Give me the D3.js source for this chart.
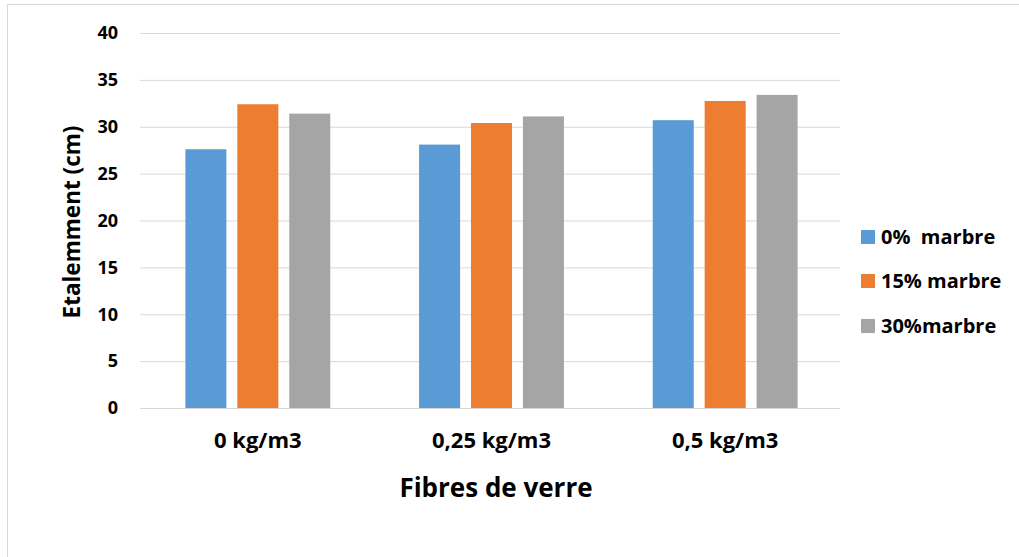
<!DOCTYPE html>
<html>
<head>
<meta charset="utf-8">
<script src="https://cdn.jsdelivr.net/npm/d3@7"></script>
<style>
  body { margin: 0; background: #fff; }
  text { font-family: "Open Sans", Lato, sans-serif; font-weight: bold; fill: #000; }
</style>
</head>
<body>
<script>
var categories = ["0 kg/m3", "0,25 kg/m3", "0,5 kg/m3"];
var seriesNames = ["0%  marbre", "15% marbre", "30%marbre"];
var colors = ["#5B9BD5", "#ED7D31", "#A5A5A5"];
var marbre0 = [27.6, 28.1, 30.7];
var marbre15 = [32.4, 30.4, 32.75];
var marbre30 = [31.4, 31.1, 33.4];
var yTicks = [0, 5, 10, 15, 20, 25, 30, 35, 40];

var values = [marbre0, marbre15, marbre30];

var svg = d3.select("body").append("svg")
    .attr("width", 1019)
    .attr("height", 557);

// chart frame
svg.append("rect")
    .attr("x", 7.5).attr("y", 4.5)
    .attr("width", 1100).attr("height", 600)
    .attr("fill", "none")
    .attr("stroke", "#D9D9D9");

var x0 = d3.scaleBand()
    .domain(categories)
    .range([141, 842])
    .paddingInner(0.38)
    .paddingOuter(0.19);

var x1 = d3.scaleBand()
    .domain(seriesNames)
    .range([0, x0.bandwidth()])
    .paddingInner(0.21);

var y = d3.scaleLinear()
    .domain([0, 40])
    .range([408, 33]);

// gridlines
svg.append("g").selectAll("line")
    .data(yTicks)
    .enter().append("line")
    .attr("x1", 140).attr("x2", 840)
    .attr("y1", function(d) { return y(d) + 0.5; })
    .attr("y2", function(d) { return y(d) + 0.5; })
    .attr("stroke", "#D9D9D9")
    .attr("stroke-width", 1);

// y tick labels
svg.append("g").selectAll("text")
    .data(yTicks)
    .enter().append("text")
    .attr("x", 118)
    .attr("y", function(d) { return y(d); })
    .attr("dy", "0.35em")
    .attr("text-anchor", "end")
    .style("font-size", "18px")
    .text(function(d) { return d; });

// bars
var groups = svg.append("g").selectAll("g")
    .data(categories)
    .enter().append("g")
    .attr("transform", function(d) { return "translate(" + x0(d) + ",0)"; });

groups.selectAll("rect")
    .data(function(d, i) {
        return seriesNames.map(function(s, j) { return { s: s, v: values[j][i], c: colors[j] }; });
    })
    .enter().append("rect")
    .attr("x", function(d) { return x1(d.s); })
    .attr("y", function(d) { return y(d.v); })
    .attr("width", x1.bandwidth())
    .attr("height", function(d) { return y(0) - y(d.v); })
    .attr("fill", function(d) { return d.c; });

// x labels
svg.append("g").selectAll("text")
    .data(categories)
    .enter().append("text")
    .attr("x", function(d) { return x0(d) + x0.bandwidth() / 2; })
    .attr("y", 448)
    .attr("text-anchor", "middle")
    .style("font-size", "22px")
    .text(function(d) { return d; });

// axis titles
svg.append("text")
    .attr("x", 496)
    .attr("y", 497)
    .attr("text-anchor", "middle")
    .style("font-size", "26px")
    .text("Fibres de verre");

svg.append("text")
    .attr("transform", "translate(80,222) rotate(-90)")
    .attr("text-anchor", "middle")
    .style("font-size", "22.5px")
    .text("Etalemment (cm)");

// legend
var legendY = [237, 281, 326];
var legend = svg.append("g").selectAll("g")
    .data(seriesNames)
    .enter().append("g")
    .attr("transform", function(d, i) { return "translate(861," + legendY[i] + ")"; });

legend.append("rect")
    .attr("x", 0).attr("y", -7)
    .attr("width", 14).attr("height", 14)
    .attr("fill", function(d, i) { return colors[i]; });

legend.append("text")
    .attr("x", 20)
    .attr("dy", "0.35em")
    .style("font-size", "20px")
    .style("white-space", "pre")
    .text(function(d) { return d; });
</script>
</body>
</html>
